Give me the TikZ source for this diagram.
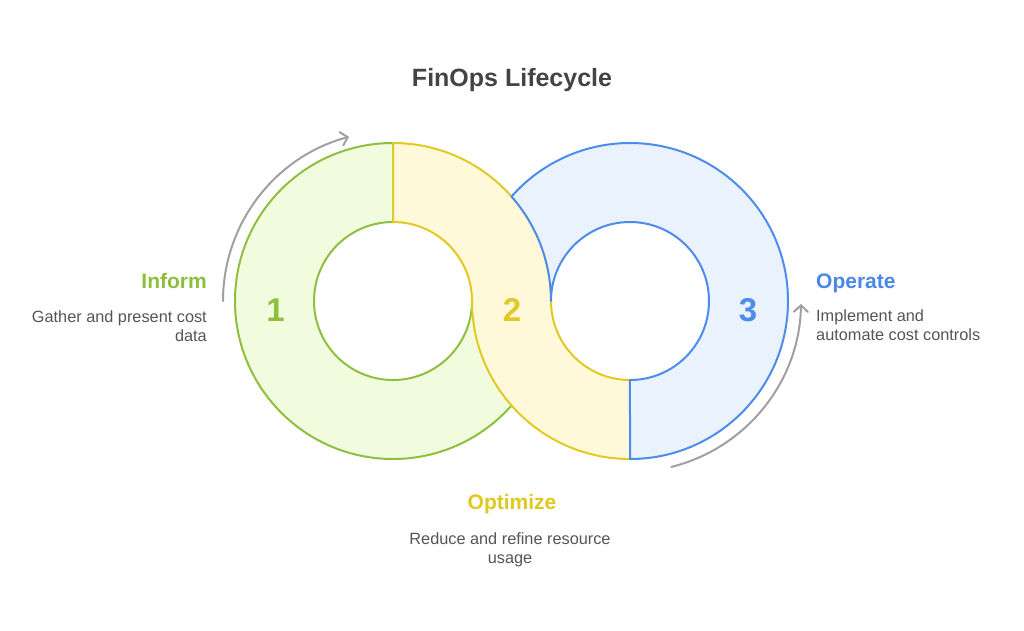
\documentclass[tikz,border=0pt]{standalone}
\usepackage{fontspec}
\setmainfont{Liberation Sans}
\usetikzlibrary{arrows.meta}
\definecolor{gline}{HTML}{8FBF3F}
\definecolor{gfill}{HTML}{F1FCDF}
\definecolor{yline}{HTML}{E2C925}
\definecolor{yfill}{HTML}{FFF9DA}
\definecolor{bline}{HTML}{4D8CEB}
\definecolor{bfill}{HTML}{EAF2FE}
\definecolor{gtext}{HTML}{8DBE3C}
\definecolor{ytext}{HTML}{E0C81E}
\definecolor{btext}{HTML}{4A88E8}
\definecolor{bodytext}{HTML}{555555}
\definecolor{titletext}{HTML}{444444}
\definecolor{arrowgray}{HTML}{A0A0A0}
\tikzset{
  ringline/.style={line width=2pt, line join=round, line cap=round},
  cyclearrow/.style={draw=arrowgray, line width=2pt, line cap=round, -{Straight Barb[length=6.5pt,width=14pt,line cap=round]}},
  bodytxt/.style={inner sep=0pt, text=bodytext, font=\fontsize{16.3}{19}\selectfont},
  labtxt/.style={inner sep=0pt, font=\fontsize{21}{25}\selectfont\bfseries},
  numtxt/.style={inner sep=0pt, font=\fontsize{33}{38}\selectfont\bfseries},
  titletxt/.style={inner sep=0pt, text=titletext, font=\fontsize{25}{30}\selectfont\bfseries}
}
\begin{document}
\begin{tikzpicture}[x=1pt,y=-1pt]
\useasboundingbox[fill=white] (0,0) rectangle (1024,630);
% green segment (Inform)
\fill[gfill] (393,143) arc[start angle=-90, end angle=-318.6, radius=158]
  arc[start angle=138.6, end angle=180, radius=158]
  arc[start angle=0, end angle=270, radius=79] -- cycle;
\draw[ringline, draw=gline] (393,143) arc[start angle=-90, end angle=-318.6, radius=158];
\draw[ringline, draw=gline] (472,301) arc[start angle=0, end angle=270, radius=79];
% yellow segment (Optimize)
\filldraw[ringline, fill=yfill, draw=yline] (393,143) arc[start angle=-90, end angle=0, radius=158]
  arc[start angle=180, end angle=90, radius=79] -- (630,459)
  arc[start angle=90, end angle=180, radius=158]
  arc[start angle=0, end angle=-90, radius=79] -- cycle;
% blue segment (Operate)
\filldraw[ringline, fill=bfill, draw=bline] (630,459) arc[start angle=90, end angle=-138.6, radius=158]
  arc[start angle=-41.4, end angle=0, radius=158]
  arc[start angle=180, end angle=450, radius=79] -- cycle;
% cycle arrows
\draw[cyclearrow] (223,301) arc[start angle=180, end angle=255, radius=170];
\draw[cyclearrow] (671.4,466.9) arc[start angle=76, end angle=1, radius=171];
% numbers
\node[numtxt, text=gline, anchor=base] (n1) at (275.5,321) {1};
\node[numtxt, text=yline, anchor=base] (n2) at (512,321) {2};
\node[numtxt, text=bline, anchor=base] (n3) at (748,321) {3};
% title
\node[titletxt, anchor=base] (title) at (512,86) {FinOps Lifecycle};
% Inform
\node[labtxt, text=gtext, anchor=base east] (inform) at (207,288) {Inform};
\node[bodytxt, anchor=base east] (inform1) at (207,322) {Gather and present cost};
\node[bodytxt, anchor=base east] (inform2) at (207,341) {data};
% Operate
\node[labtxt, text=btext, anchor=base west] (operate) at (816,288) {Operate};
\node[bodytxt, anchor=base west] (operate1) at (816,321.5) {Implement and};
\node[bodytxt, anchor=base west] (operate2) at (816,340.5) {automate cost controls};
% Optimize
\node[labtxt, text=ytext, anchor=base] (optimize) at (512,509) {Optimize};
\node[bodytxt, anchor=base] (optimize1) at (510,544.5) {Reduce and refine resource};
\node[bodytxt, anchor=base] (optimize2) at (510,563) {usage};
\end{tikzpicture}
\end{document}
